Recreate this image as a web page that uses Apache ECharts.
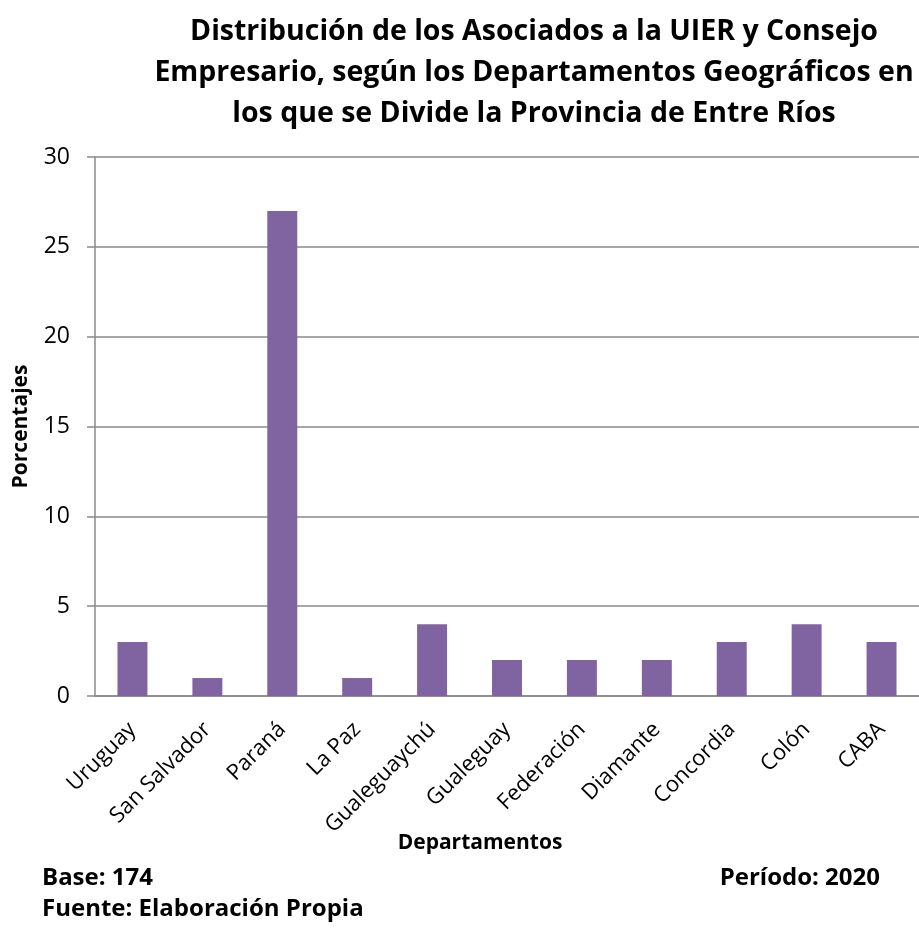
<!DOCTYPE html>
<html><head><meta charset="utf-8">
<script src="https://cdn.jsdelivr.net/npm/echarts@6/dist/echarts.min.js"></script>
<style>html,body{margin:0;padding:0;background:#fff}#c{width:919px;height:930px}</style>
</head><body><div id="c"></div>
<script>
const categories = ['Uruguay','San Salvador','Paraná','La Paz','Gualeguaychú','Gualeguay','Federación','Diamante','Concordia','Colón','CABA'];
const values = [3,1,27,1,4,2,2,2,3,4,3];
const yTicks = [0,5,10,15,20,25,30];
const FONT = 'Open Sans';
const chart = echarts.init(document.getElementById('c'));
chart.setOption({
  animation:false,
  title:{
    text:'Distribución de los Asociados a la UIER y Consejo\nEmpresario, según los Departamentos Geográficos en\nlos que se Divide la Provincia de Entre Ríos',
    left:529, top:6, textAlign:'center',
    textStyle:{fontFamily:FONT,fontWeight:'bold',fontSize:28.5,lineHeight:41,color:'#000'}
  },
  graphic:[
    {type:'text',left:42,top:866,style:{text:'Base: 174',font:'bold 24px '+FONT,fill:'#000'}},
    {type:'text',right:39,top:866,style:{text:'Período: 2020',font:'bold 24px '+FONT,fill:'#000'}},
    {type:'text',left:42,top:897,style:{text:'Fuente: Elaboración Propia',font:'bold 24px '+FONT,fill:'#000'}}
  ],
  grid:{left:95,top:157,width:828,height:539,containLabel:false},
  xAxis:{
    type:'category',data:categories,
    name:'Departamentos',nameLocation:'middle',nameGap:137,nameMoveOverlap:false,
    nameTextStyle:{fontFamily:FONT,fontWeight:'bold',fontSize:21,color:'#000',padding:[0,54,0,0]},
    axisLine:{lineStyle:{color:'#8a8a8a',width:1.5}},
    axisTick:{show:false},
    axisLabel:{rotate:45,interval:0,fontFamily:FONT,fontSize:22,color:'#000',margin:30}
  },
  yAxis:{
    type:'value',min:0,max:30,interval:5,
    name:'Porcentajes',nameLocation:'middle',nameGap:63,nameRotate:90,nameMoveOverlap:false,
    nameTextStyle:{fontFamily:FONT,fontWeight:'bold',fontSize:21,color:'#000'},
    axisLine:{show:true,lineStyle:{color:'#8a8a8a',width:1.5}},
    axisTick:{show:true,length:8,lineStyle:{color:'#8a8a8a',width:1.5}},
    splitLine:{lineStyle:{color:'#8a8a8a',width:1.5}},
    axisLabel:{fontFamily:FONT,fontSize:23,color:'#000',margin:25,
      formatter:v=>yTicks.includes(v)?String(v):''}
  },
  series:[{type:'bar',data:values,barWidth:'40%',itemStyle:{color:'#8064A2'}}]
});
</script></body></html>
